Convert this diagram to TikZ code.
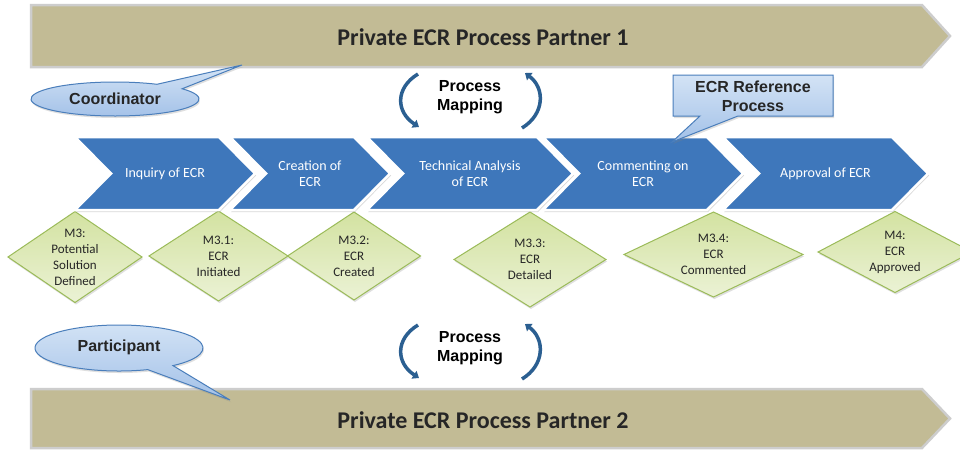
\documentclass[tikz,border=0pt]{standalone}
\usepackage{fontspec}
\setmainfont{Carlito}
\newfontfamily\arialf{Liberation Sans}
\usetikzlibrary{shadows,arrows.meta}
\definecolor{bannerfill}{HTML}{C2BB95}
\definecolor{bannerline}{HTML}{CDCDCD}
\definecolor{chevblue}{HTML}{3E77BB}
\definecolor{diaLine}{HTML}{9BBB59}
\definecolor{diaTop}{HTML}{D3E2A1}
\definecolor{diaBot}{HTML}{EBF2D5}
\definecolor{callLine}{HTML}{4A7EBB}
\definecolor{callTop}{HTML}{D3E3F5}
\definecolor{callBot}{HTML}{A3C1E8}
\definecolor{mapBlue}{HTML}{2B5F91}
\definecolor{txtdark}{HTML}{262626}
\newcommand\mychev[4]{%
  \path[chev] (#2,137) -- ({#3-36},137) -- (#3,173.5) -- ({#3-36},210) -- (#2,210) -- ({#2+36},173.5) -- cycle;
  \node[chevtext] (#1) at ({(#2+#3)/2},173.5) {#4};}
\newcommand\mydiamond[6]{%
  \path[dia] ({#2-#4},#3) -- (#2,{#3-#5}) -- ({#2+#4},#3) -- (#2,{#3+#5}) -- cycle;
  \node[diatext] (#1) at (#2,#3) {#6};}
\begin{document}
\begin{tikzpicture}[x=1pt,y=-1pt,
  banner/.style={fill=bannerfill,draw=bannerline,line width=2.5pt,line join=miter},
  bannertext/.style={font=\fontsize{24}{28}\selectfont\bfseries,text=txtdark},
  chev/.style={fill=chevblue,draw=white,line width=2.5pt,line join=miter,
    drop shadow={opacity=0.3,shadow xshift=1pt,shadow yshift=-2pt}},
  chevtext/.style={font=\fontsize{14}{16.5}\selectfont,text=white,align=center},
  dia/.style={draw=diaLine,line width=1pt,top color=diaTop,bottom color=diaBot,
    drop shadow={opacity=0.25,shadow xshift=1pt,shadow yshift=-2pt}},
  diatext/.style={font=\fontsize{13}{16}\selectfont,text=txtdark,align=center},
  callout/.style={draw=callLine,line width=1pt,top color=callTop,bottom color=callBot,
    drop shadow={opacity=0.25,shadow xshift=1pt,shadow yshift=-2pt}},
  calltext/.style={font=\arialf\bfseries\fontsize{16}{19}\selectfont,text=txtdark,align=center},
  maparc/.style={draw=mapBlue,line width=3.5pt,-{Triangle[length=6pt,width=9pt]}},
  maptext/.style={font=\arialf\bfseries\fontsize{16}{19}\selectfont,text=black,align=center}
]
\useasboundingbox (0,0) rectangle (960,450);
\fill[white] (0,0) rectangle (960,450);

% banners
\path[banner] (31,5) -- (922,5) -- (950,36) -- (922,67) -- (31,67) -- cycle;
\node[bannertext] (p1) at (483,37) {Private ECR Process Partner 1};
\path[banner] (31,389) -- (922,389) -- (950,418.5) -- (922,448) -- (31,448) -- cycle;
\node[bannertext] (p2) at (483,420) {Private ECR Process Partner 2};

% diamonds
\mydiamond{m3}{75}{257}{67}{45.5}{M3:\\Potential\\Solution\\Defined}
\mydiamond{m31}{218.5}{256}{69.5}{45}{M3.1:\\ECR\\Initiated}
\mydiamond{m32}{354}{256}{66.5}{44}{M3.2:\\ECR\\Created}
\mydiamond{m33}{530}{259.5}{76}{47.5}{M3.3:\\ECR\\Detailed}
\mydiamond{m34}{713.5}{254.5}{89.5}{42.5}{M3.4:\\ECR\\Commented}
\mydiamond{m4}{895}{252}{77}{40.5}{M4:\\ECR\\Approved}

% chevrons
\mychev{c1}{75}{255}{Inquiry of ECR}
\mychev{c2}{230}{390}{Creation of\\ECR}
\mychev{c3}{367}{573}{Technical Analysis\\of ECR}
\mychev{c4}{543}{743}{Commenting on\\ECR}
\mychev{c5}{723}{928}{Approval of ECR}

% coordinator callout
\path[callout] (115,99) ++(-37:84 and 17) arc[start angle=-37,end angle=300,x radius=84,y radius=17] -- (242,65) -- cycle;
\node[calltext] (coord) at (115,99) {Coordinator};

% participant callout
\path[callout] (119,348) ++(70:84 and 23) arc[start angle=70,end angle=410,x radius=84,y radius=23] -- (230,400) -- cycle;
\node[calltext] (part) at (119,347) {Participant};

% ECR reference callout
\path[callout] (673,75) -- (833,75) -- (833,116) -- (738,116) -- (672,142) -- (700,116) -- (673,116) -- cycle;
\node[calltext] (ref) at (753,96) {ECR Reference\\Process};

% process mapping (top)
\node[maptext] (pm1) at (470,97.5) {Process\\Mapping};
\draw[maparc] (418,74) .. controls (395,88) and (396,112) .. (419,127);
\draw[maparc] (522,128) .. controls (545,114) and (545,88) .. (525,73);

% process mapping (bottom)
\node[maptext] (pm2) at (470,348.5) {Process\\Mapping};
\draw[maparc] (418,325) .. controls (395,339) and (396,363) .. (419,378);
\draw[maparc] (522,379) .. controls (545,365) and (545,339) .. (525,324);
\end{tikzpicture}
\end{document}
